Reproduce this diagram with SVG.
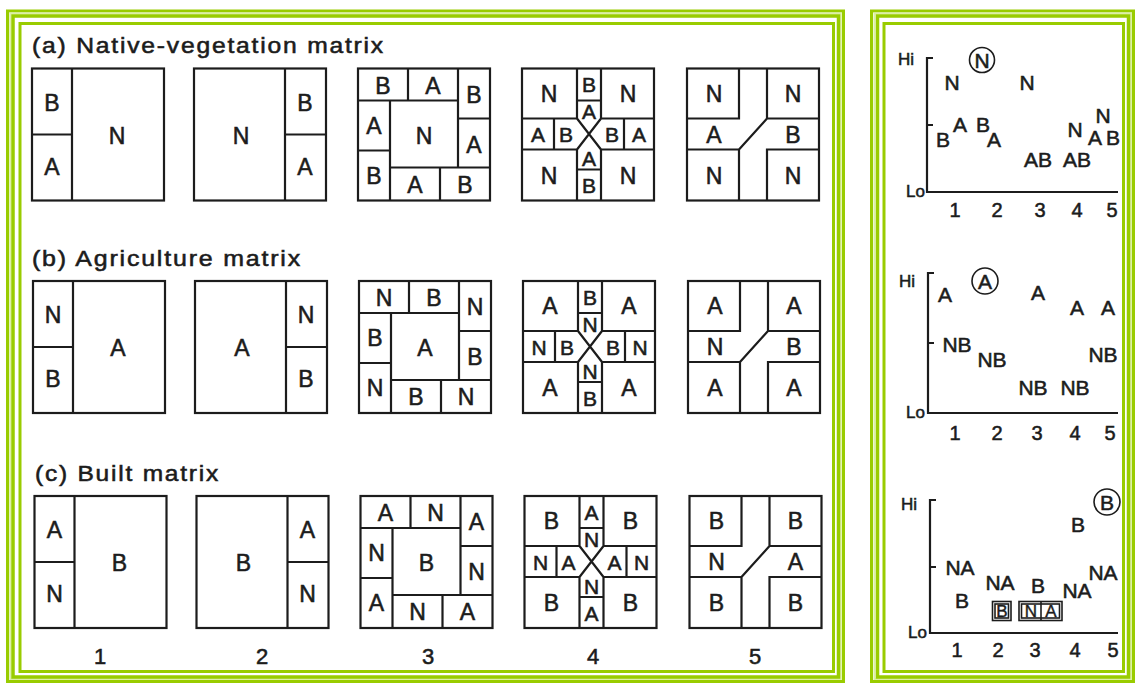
<svg xmlns="http://www.w3.org/2000/svg" width="1136" height="683" viewBox="0 0 1136 683">
<style>
.g{fill:none;stroke:#99cc00}
.pale{fill:none;stroke:#dcefa6}
.ln{fill:none;stroke:#1c1c1c;stroke-width:2.2}
.thin{fill:none;stroke:#1c1c1c;stroke-width:1.6}
.t{font-family:"Liberation Sans",Arial,Helvetica,sans-serif;fill:#1c1c1c;stroke:#1c1c1c;stroke-width:0.55}
.bl{font-size:23px;text-anchor:middle;dominant-baseline:central}
.sm{font-size:21px}
.ttl{font-size:22px;letter-spacing:1.6px}
.num{font-size:22px;text-anchor:middle}
.cl{font-size:21px;text-anchor:middle}
.bx{font-size:17px;text-anchor:middle;stroke-width:0.4}
.ax{font-size:17px;text-anchor:end}
.dg{font-size:20px;text-anchor:middle}
</style>
<defs>
<g id="p1"><rect class="ln" x="0" y="0" width="132" height="132"/><path class="ln" d="M40 0V132M0 66H40"/></g>
<g id="p2"><rect class="ln" x="0" y="0" width="132" height="132"/><path class="ln" d="M91 0V132M91 66H132"/></g>
<g id="p3"><rect class="ln" x="0" y="0" width="132" height="132"/><path class="ln" d="M0 32H100M100 0V99M32 32V132M32 99H132M50 0V32M100 50H132M0 82H32M82 99V132"/></g>
<g id="p4"><rect class="ln" x="0" y="0" width="132" height="132"/><path class="ln" d="M55 0V50M79 0V50M55 32H79M0 50H55M79 50H132M32 50V81M102 50V81M0 81H55M79 81H132M55 81V132M79 81V132M55 101H79M55 50L79 81M79 50L55 81"/></g>
<g id="p5"><rect class="ln" x="0" y="0" width="132" height="132"/><path class="ln" d="M52 0V50H0M80 0V50H132M0 81H52V132M132 81H80V132M52 81L80 50"/></g>
</defs>
<rect width="1136" height="683" fill="#ffffff"/>

<g id="frames">
<rect class="g" x="7.5" y="11" width="836" height="670.5" stroke-width="3"/>
<rect class="pale" x="10.3" y="13.5" width="830.5" height="665.5" stroke-width="2"/>
<rect class="g" x="13" y="16" width="825.5" height="661" stroke-width="3.5"/>
<rect class="g" x="20" y="23.5" width="813.5" height="648" stroke-width="3"/>
<rect class="g" x="871.5" y="11" width="262" height="670.5" stroke-width="3"/>
<rect class="pale" x="874.5" y="13.5" width="256.5" height="665.5" stroke-width="2"/>
<rect class="g" x="877.5" y="16" width="251" height="661" stroke-width="3.5"/>
<rect class="g" x="884" y="23.5" width="239.5" height="648" stroke-width="3"/>
</g>

<g id="titles">
<text class="t ttl" x="32" y="53" textLength="353" lengthAdjust="spacingAndGlyphs">(a) Native-vegetation matrix</text>
<text class="t ttl" x="32" y="266" textLength="270" lengthAdjust="spacingAndGlyphs">(b) Agriculture matrix</text>
<text class="t ttl" x="35" y="481" textLength="185" lengthAdjust="spacingAndGlyphs">(c) Built matrix</text>
</g>

<!-- Row a -->
<g id="a1" transform="translate(32,68.5)"><use href="#p1"/>
<text class="t bl" x="20" y="34">B</text><text class="t bl" x="20" y="98">A</text><text class="t bl" x="85" y="67">N</text></g>
<g id="a2" transform="translate(194,68.5)"><use href="#p2"/>
<text class="t bl" x="47" y="67">N</text><text class="t bl" x="111" y="34">B</text><text class="t bl" x="111" y="98">A</text></g>
<g id="a3" transform="translate(358,68.5)"><use href="#p3"/>
<text class="t bl" x="25" y="17">B</text><text class="t bl" x="75" y="17">A</text><text class="t bl" x="116" y="26">B</text><text class="t bl" x="116" y="76">A</text><text class="t bl" x="16" y="57">A</text><text class="t bl" x="16" y="107">B</text><text class="t bl" x="57" y="116">A</text><text class="t bl" x="107" y="116">B</text><text class="t bl" x="66" y="67">N</text></g>
<g id="a4" transform="translate(522,68.5)"><use href="#p4"/>
<text class="t bl" x="27" y="25">N</text><text class="t bl" x="106" y="25">N</text><text class="t bl" x="27" y="107">N</text><text class="t bl" x="106" y="107">N</text>
<text class="t bl sm" x="67" y="16">B</text><text class="t bl sm" x="67" y="43">A</text><text class="t bl sm" x="16" y="66">A</text><text class="t bl sm" x="44" y="66">B</text><text class="t bl sm" x="90" y="66">B</text><text class="t bl sm" x="117" y="66">A</text><text class="t bl sm" x="67" y="90">A</text><text class="t bl sm" x="67" y="117">B</text></g>
<g id="a5" transform="translate(687,68.5)"><use href="#p5"/>
<text class="t bl" x="27" y="25">N</text><text class="t bl" x="106" y="25">N</text><text class="t bl" x="27" y="66">A</text><text class="t bl" x="106" y="66">B</text><text class="t bl" x="27" y="107">N</text><text class="t bl" x="106" y="107">N</text></g>

<!-- Row b -->
<g id="b1" transform="translate(33,281)"><use href="#p1"/>
<text class="t bl" x="20" y="34">N</text><text class="t bl" x="20" y="98">B</text><text class="t bl" x="85" y="67">A</text></g>
<g id="b2" transform="translate(195,281)"><use href="#p2"/>
<text class="t bl" x="47" y="67">A</text><text class="t bl" x="111" y="34">N</text><text class="t bl" x="111" y="98">B</text></g>
<g id="b3" transform="translate(359,281)"><use href="#p3"/>
<text class="t bl" x="25" y="17">N</text><text class="t bl" x="75" y="17">B</text><text class="t bl" x="116" y="26">N</text><text class="t bl" x="116" y="76">B</text><text class="t bl" x="16" y="57">B</text><text class="t bl" x="16" y="107">N</text><text class="t bl" x="57" y="116">B</text><text class="t bl" x="107" y="116">N</text><text class="t bl" x="66" y="67">A</text></g>
<g id="b4" transform="translate(523,281)"><use href="#p4"/>
<text class="t bl" x="27" y="25">A</text><text class="t bl" x="106" y="25">A</text><text class="t bl" x="27" y="107">A</text><text class="t bl" x="106" y="107">A</text>
<text class="t bl sm" x="67" y="16">B</text><text class="t bl sm" x="67" y="43">N</text><text class="t bl sm" x="16" y="66">N</text><text class="t bl sm" x="44" y="66">B</text><text class="t bl sm" x="90" y="66">B</text><text class="t bl sm" x="117" y="66">N</text><text class="t bl sm" x="67" y="90">N</text><text class="t bl sm" x="67" y="117">B</text></g>
<g id="b5" transform="translate(688,281)"><use href="#p5"/>
<text class="t bl" x="27" y="25">A</text><text class="t bl" x="106" y="25">A</text><text class="t bl" x="27" y="66">N</text><text class="t bl" x="106" y="66">B</text><text class="t bl" x="27" y="107">A</text><text class="t bl" x="106" y="107">A</text></g>

<!-- Row c -->
<g id="c1" transform="translate(34.5,496)"><use href="#p1"/>
<text class="t bl" x="20" y="34">A</text><text class="t bl" x="20" y="98">N</text><text class="t bl" x="85" y="67">B</text></g>
<g id="c2" transform="translate(196.5,496)"><use href="#p2"/>
<text class="t bl" x="47" y="67">B</text><text class="t bl" x="111" y="34">A</text><text class="t bl" x="111" y="98">N</text></g>
<g id="c3" transform="translate(360.5,496)"><use href="#p3"/>
<text class="t bl" x="25" y="17">A</text><text class="t bl" x="75" y="17">N</text><text class="t bl" x="116" y="26">A</text><text class="t bl" x="116" y="76">N</text><text class="t bl" x="16" y="57">N</text><text class="t bl" x="16" y="107">A</text><text class="t bl" x="57" y="116">N</text><text class="t bl" x="107" y="116">A</text><text class="t bl" x="66" y="67">B</text></g>
<g id="c4" transform="translate(524.5,496)"><use href="#p4"/>
<text class="t bl" x="27" y="25">B</text><text class="t bl" x="106" y="25">B</text><text class="t bl" x="27" y="107">B</text><text class="t bl" x="106" y="107">B</text>
<text class="t bl sm" x="67" y="16">A</text><text class="t bl sm" x="67" y="43">N</text><text class="t bl sm" x="16" y="66">N</text><text class="t bl sm" x="44" y="66">A</text><text class="t bl sm" x="90" y="66">A</text><text class="t bl sm" x="117" y="66">N</text><text class="t bl sm" x="67" y="90">N</text><text class="t bl sm" x="67" y="117">A</text></g>
<g id="c5" transform="translate(689.5,496)"><use href="#p5"/>
<text class="t bl" x="27" y="25">B</text><text class="t bl" x="106" y="25">B</text><text class="t bl" x="27" y="66">N</text><text class="t bl" x="106" y="66">A</text><text class="t bl" x="27" y="107">B</text><text class="t bl" x="106" y="107">B</text></g>

<g id="col-numbers">
<text class="t num" x="100" y="664">1</text><text class="t num" x="262" y="664">2</text><text class="t num" x="428" y="664">3</text><text class="t num" x="593" y="664">4</text><text class="t num" x="755" y="664">5</text>
</g>

<!-- Chart N -->
<g id="chart-n">
<path class="ln" d="M933 58H927V192H1118M927 125H933"/>
<text class="t ax" x="914" y="65">Hi</text><text class="t ax" x="925" y="197">Lo</text>
<text class="t dg" x="955" y="217">1</text><text class="t dg" x="997" y="217">2</text><text class="t dg" x="1040" y="217">3</text><text class="t dg" x="1077" y="217">4</text><text class="t dg" x="1112" y="217">5</text>
<circle class="thin" cx="982" cy="60" r="12.5"/>
<text class="t cl" x="982" y="67.5">N</text>
<text class="t cl" x="952" y="90">N</text><text class="t cl" x="1027" y="90">N</text>
<text class="t cl" x="943" y="147">B</text><text class="t cl" x="960" y="132">A</text><text class="t cl" x="983" y="132">B</text><text class="t cl" x="994" y="147">A</text>
<text class="t cl" x="1038" y="167">AB</text><text class="t cl" x="1077" y="167">AB</text>
<text class="t cl" x="1075" y="137">N</text><text class="t cl" x="1095" y="145">A</text><text class="t cl" x="1103" y="123">N</text><text class="t cl" x="1113" y="145">B</text>
</g>

<!-- Chart A -->
<g id="chart-a">
<path class="ln" d="M934 273H928V413H1118M928 343H934"/>
<text class="t ax" x="915" y="287">Hi</text><text class="t ax" x="925" y="418">Lo</text>
<text class="t dg" x="955" y="440">1</text><text class="t dg" x="997" y="440">2</text><text class="t dg" x="1037" y="440">3</text><text class="t dg" x="1075" y="440">4</text><text class="t dg" x="1110" y="440">5</text>
<circle class="thin" cx="985" cy="281" r="13"/>
<text class="t cl" x="985" y="288.5">A</text>
<text class="t cl" x="945" y="302">A</text><text class="t cl" x="1038" y="300">A</text><text class="t cl" x="1077" y="315">A</text><text class="t cl" x="1108" y="315">A</text>
<text class="t cl" x="957" y="352">NB</text><text class="t cl" x="992" y="367">NB</text><text class="t cl" x="1033" y="395">NB</text><text class="t cl" x="1075" y="395">NB</text><text class="t cl" x="1103" y="362">NB</text>
</g>

<!-- Chart B -->
<g id="chart-b">
<path class="ln" d="M936 500H930V633H1118M930 567H936"/>
<text class="t ax" x="917" y="510">Hi</text><text class="t ax" x="927" y="638">Lo</text>
<text class="t dg" x="957" y="657">1</text><text class="t dg" x="998" y="657">2</text><text class="t dg" x="1035" y="657">3</text><text class="t dg" x="1075" y="657">4</text><text class="t dg" x="1113" y="657">5</text>
<circle class="thin" cx="1107" cy="502" r="13"/>
<text class="t cl" x="1107" y="509.5">B</text>
<text class="t cl" x="1078" y="532">B</text>
<text class="t cl" x="960" y="575">NA</text><text class="t cl" x="962" y="608">B</text>
<text class="t cl" x="1000" y="590">NA</text><text class="t cl" x="1038" y="593">B</text>
<text class="t cl" x="1077" y="598">NA</text><text class="t cl" x="1103" y="580">NA</text>
<rect class="thin" x="992.5" y="601.5" width="18.5" height="19"/><rect class="thin" x="995" y="604" width="13.5" height="14"/>
<text class="t bx" x="1001.8" y="617">B</text>
<rect class="thin" x="1019" y="601.5" width="43" height="19"/><rect class="thin" x="1021.5" y="604" width="38" height="14"/>
<path class="thin" d="M1041 601.5V620.5"/>
<text class="t bx" x="1031" y="617">N</text><text class="t bx" x="1051" y="617">A</text>
</g>
</svg>
